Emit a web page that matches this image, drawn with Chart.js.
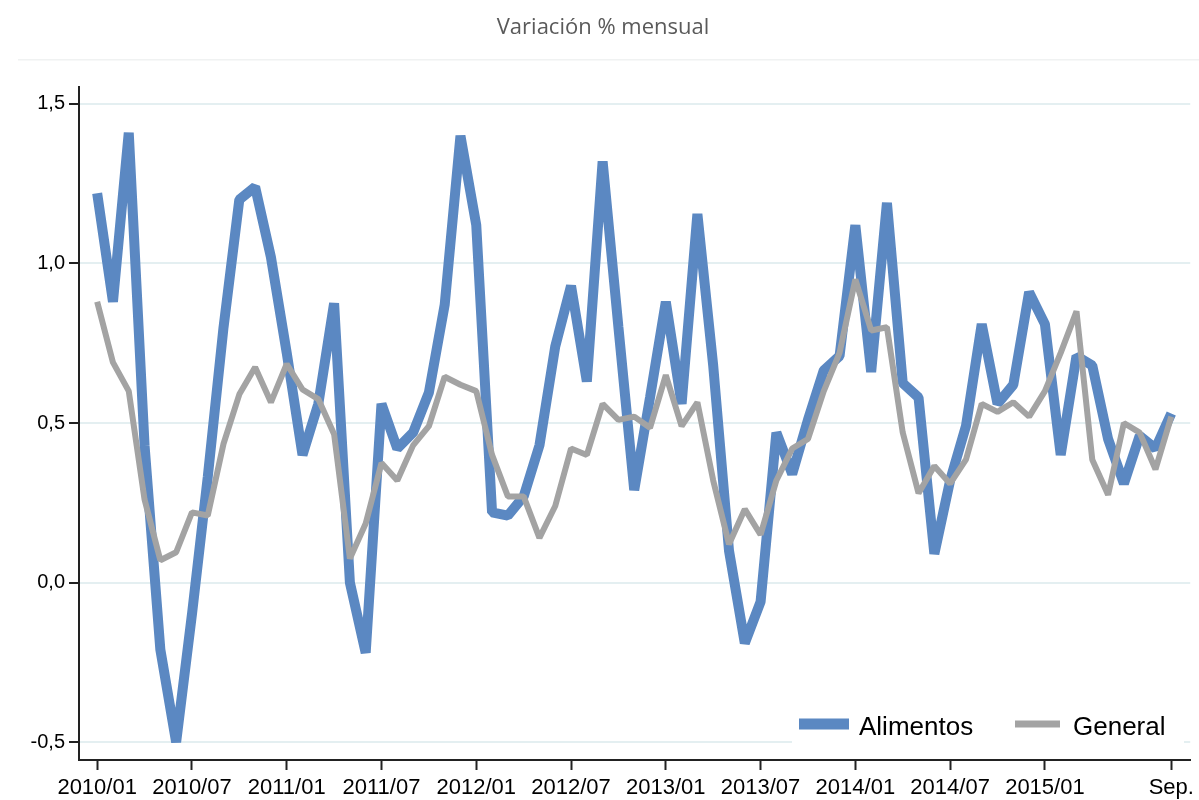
<!DOCTYPE html>
<html>
<head>
<meta charset="utf-8">
<script src="https://cdn.jsdelivr.net/npm/chart.js@4"></script>
<style>
  html, body { margin: 0; padding: 0; background: #fff; }
  #wrap { width: 1199px; height: 800px; position: relative; }
</style>
</head>
<body>
<div id="wrap"><canvas id="ipcChart"></canvas></div>
<script>
// monthly % change, 2010/01 .. 2015/09
const alimentos = [
  1.22, 0.88, 1.41, 0.43, -0.21, -0.50, -0.10, 0.33, 0.80, 1.20, 1.24, 1.02,
  0.72, 0.40, 0.56, 0.875, 0.00, -0.22, 0.56, 0.42, 0.47, 0.595, 0.87, 1.40,
  1.12, 0.22, 0.21, 0.27, 0.43, 0.74, 0.93, 0.63, 1.32, 0.80, 0.29, 0.58,
  0.88, 0.56, 1.155, 0.68, 0.10, -0.19, -0.06, 0.47, 0.34, 0.51, 0.665, 0.71,
  1.12, 0.66, 1.19, 0.625, 0.58, 0.09, 0.32, 0.49, 0.81, 0.56, 0.62, 0.91,
  0.81, 0.40, 0.71, 0.68, 0.45, 0.31, 0.46, 0.42, 0.53
]
const general = [
  0.88, 0.69, 0.60, 0.26, 0.07, 0.095, 0.22, 0.21, 0.435, 0.59, 0.675, 0.565,
  0.685, 0.605, 0.575, 0.465, 0.075, 0.185, 0.375, 0.32, 0.43, 0.49, 0.645, 0.62,
  0.60, 0.40, 0.27, 0.27, 0.14, 0.24, 0.42, 0.40, 0.56, 0.51, 0.52, 0.485,
  0.65, 0.49, 0.565, 0.32, 0.12, 0.23, 0.15, 0.32, 0.42, 0.45, 0.60, 0.72,
  0.95, 0.79, 0.80, 0.47, 0.28, 0.365, 0.31, 0.385, 0.56, 0.535, 0.565, 0.52,
  0.60, 0.72, 0.85, 0.385, 0.275, 0.50, 0.47, 0.355, 0.52
]
const tickPositions = [0, 6, 12, 18, 24, 30, 36, 42, 48, 54, 60, 68]
const tickLabels = ['2010/01', '2010/07', '2011/01', '2011/07', '2012/01', '2012/07',
  '2013/01', '2013/07', '2014/01', '2014/07', '2015/01', 'Sep.']
const yTicks = [-0.5, 0, 0.5, 1, 1.5]

const BLUE = '#5b88c2'
const GREY = '#a3a3a3'

const toPoints = arr => arr.map((v, i) => ({ x: i, y: v }))

const titlePlugin = {
  id: 'titleAndLegend',
  afterDraw(chart) {
    const c = chart.ctx
    c.save()
    // title + thin rule under it
    c.fillStyle = '#5a5a5a'
    c.font = '22px "Open Sans", sans-serif'
    c.textAlign = 'center'
    c.textBaseline = 'middle'
    c.fillText('Variación % mensual', 603, 28)
    c.fillStyle = '#f0f2f2'
    c.fillRect(18, 59, 1181, 1.5)

    // legend, bottom right inside the plot
    c.fillStyle = '#fff'
    c.fillRect(792, 704, 392, 44)
    c.font = '26px "Liberation Sans", Arial, sans-serif'
    c.textAlign = 'left'
    c.textBaseline = 'middle'
    const items = [
      { ds: chart.data.datasets[1], x: 799, w: 50, h: 11, tx: 859 },
      { ds: chart.data.datasets[0], x: 1015, w: 45, h: 7, tx: 1073 }
    ]
    items.forEach(it => {
      c.fillStyle = it.ds.borderColor
      c.fillRect(it.x, 724 - it.h / 2, it.w, it.h)
      c.fillStyle = '#000'
      c.fillText(it.ds.label, it.tx, 728)
    })
    c.restore()
  }
}

new Chart(document.getElementById('ipcChart'), {
  type: 'line',
  data: {
    datasets: [
      {
        label: 'General',
        data: toPoints(general),
        borderColor: GREY,
        borderWidth: 6,
        pointRadius: 0,
        tension: 0,
        borderJoinStyle: 'bevel',
        order: 0
      },
      {
        label: 'Alimentos',
        data: toPoints(alimentos),
        borderColor: BLUE,
        borderWidth: 10,
        pointRadius: 0,
        tension: 0,
        borderJoinStyle: 'bevel',
        order: 1
      }
    ]
  },
  options: {
    responsive: true,
    maintainAspectRatio: false,
    animation: false,
    layout: { padding: { top: 87, right: 6, left: 0, bottom: 0 } },
    plugins: {
      legend: { display: false },
      title: { display: false },
      tooltip: { enabled: false }
    },
    scales: {
      x: {
        type: 'linear',
        min: -1.15,
        max: 69.2,
        afterBuildTicks: scale => {
          scale.ticks = tickPositions.map(v => ({ value: v }))
        },
        afterFit: scale => { scale.height = 40 },
        ticks: {
          autoSkip: false,
          maxRotation: 0,
          padding: 5,
          color: '#000',
          font: { family: '"Liberation Sans", Arial, sans-serif', size: 22 },
          callback: v => tickLabels[tickPositions.indexOf(v)]
        },
        grid: {
          drawOnChartArea: false,
          tickLength: 10,
          tickColor: '#222',
          tickWidth: 2
        },
        border: { display: true, color: '#222', width: 2 }
      },
      y: {
        min: -0.556,
        max: 1.553,
        afterBuildTicks: scale => {
          scale.ticks = yTicks.map(v => ({ value: v }))
        },
        afterFit: scale => { scale.width = 79 },
        ticks: {
          padding: 4,
          color: '#000',
          font: { family: '"Liberation Sans", Arial, sans-serif', size: 20 },
          callback: v => v.toFixed(1).replace('.', ',')
        },
        grid: {
          color: '#e4eff1',
          lineWidth: 2,
          tickLength: 10,
          tickColor: '#222',
          tickWidth: 2
        },
        border: { display: true, color: '#222', width: 2 }
      }
    }
  },
  plugins: [titlePlugin]
})
</script>
</body>
</html>
